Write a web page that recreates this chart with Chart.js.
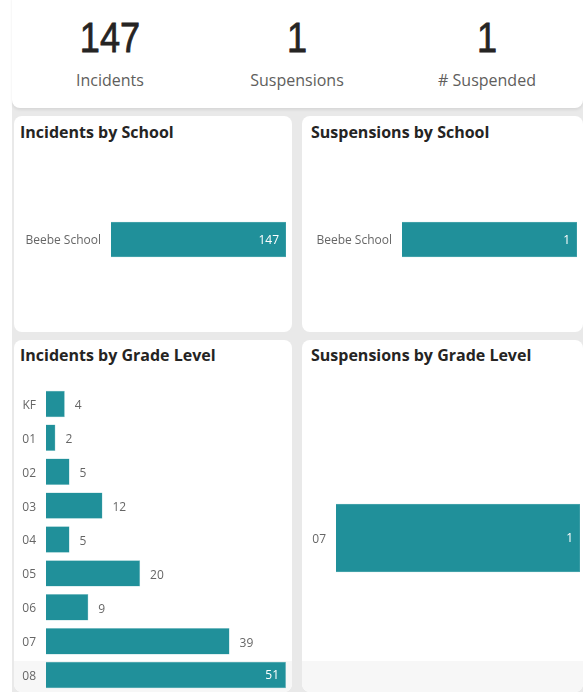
<!DOCTYPE html>
<html>
<head>
<meta charset="utf-8">
<script src="https://cdn.jsdelivr.net/npm/chart.js@4.4.1/dist/chart.umd.min.js"></script>
<style>
    html, body { margin: 0; padding: 0; background: #fff; }
    body { width: 583px; height: 692px; position: relative; overflow: hidden; font-family: 'Segoe UI', 'Open Sans', sans-serif; }
    .back { position: absolute; left: 12px; top: 100px; width: 571px; height: 592px; background: #e9e9e9; }
    .kpi-card { position: absolute; left: 12px; top: -10px; width: 571px; height: 118px; background: #fff; border-radius: 8px; box-shadow: 0 2px 3px rgba(0,0,0,0.08); }
    .kpi { position: absolute; top: 0; width: 190px; text-align: center; }
    .kpi .num { position: absolute; left: 0; right: 0; top: 25px; font-family: 'Liberation Sans', Arial, sans-serif; font-size: 42px; line-height: 46px; color: #252423; transform: scaleX(0.86); -webkit-text-stroke: 0.8px #252423; }
    .kpi .lbl { position: absolute; left: 0; right: 0; top: 79px; font-size: 16px; line-height: 22px; color: #605e5c; }
    .card { position: absolute; background: #fff; border-radius: 8px; overflow: hidden; }
    .card h2 { position: absolute; left: 6px; margin: 0; font-size: 16px; line-height: 20px; font-weight: 700; color: #252423; white-space: nowrap; }
    .band { position: absolute; left: 0; right: 0; bottom: 0; height: 31px; background: #f7f7f7; }
    canvas { position: absolute; }
</style>
</head>
<body>
<div class="back"></div>
<div class="kpi-card">
    <div class="kpi" style="left: 3px;"><div class="num" id="kpi0"></div><div class="lbl" id="kpil0"></div></div>
    <div class="kpi" style="left: 190px;"><div class="num" id="kpi1"></div><div class="lbl" id="kpil1"></div></div>
    <div class="kpi" style="left: 380px;"><div class="num" id="kpi2"></div><div class="lbl" id="kpil2"></div></div>
</div>

<div class="card" style="left: 14px; top: 116px; width: 278px; height: 216px;">
    <h2 style="top: 6px;">Incidents by School</h2>
</div>
<div class="card" style="left: 302px; top: 116px; width: 281px; height: 216px;">
    <h2 style="top: 6px; left: 9px;">Suspensions by School</h2>
</div>
<div class="card" style="left: 14px; top: 340px; width: 278px; height: 352px;">
    <h2 style="top: 5px;">Incidents by Grade Level</h2>
    <div class="band"></div>
</div>
<div class="card" style="left: 302px; top: 340px; width: 281px; height: 352px;">
    <h2 style="top: 5px; left: 9px;">Suspensions by Grade Level</h2>
    <div class="band"></div>
</div>

<canvas id="incSchool" width="280" height="179" style="left: 12px; top: 150px;"></canvas>
<canvas id="susSchool" width="281" height="179" style="left: 302px; top: 150px;"></canvas>
<canvas id="incGrade" width="280" height="305" style="left: 12px; top: 387px;"></canvas>
<canvas id="susGrade" width="281" height="306" style="left: 302px; top: 385px;"></canvas>

<script>
    // KPI cards
    const kpiValues = [147, 1, 1];
    const kpiLabels = ['Incidents', 'Suspensions', '# Suspended'];

    // bar charts
    const schools = ['Beebe School'];
    const incidentsBySchool = [147];
    const suspensionsBySchool = [1];
    const grades = ['KF', '01', '02', '03', '04', '05', '06', '07', '08'];
    const incidentsByGrade = [4, 2, 5, 12, 5, 20, 9, 39, 51];
    const suspensionGrades = ['07'];
    const suspensionsByGrade = [1];

    const BAR = '#20909a';
    const FONT = "'Segoe UI', 'Open Sans', sans-serif";

    kpiValues.forEach(function (v, i) {
        document.getElementById('kpi' + i).textContent = v;
        document.getElementById('kpil' + i).textContent = kpiLabels[i];
    });

    // value labels: outside the bar end, or inside (white) when there is no room
    const valueLabels = {
        id: 'valueLabels',
        afterDatasetsDraw(chart) {
            const ctx = chart.ctx;
            const area = chart.chartArea;
            const meta = chart.getDatasetMeta(0);
            const data = chart.data.datasets[0].data;
            ctx.save();
            ctx.font = '12px ' + FONT;
            ctx.textBaseline = 'middle';
            meta.data.forEach(function (bar, i) {
                const txt = String(data[i]);
                const w = ctx.measureText(txt).width;
                if (bar.x + 10 + w > area.right) {
                    ctx.fillStyle = '#ffffff';
                    ctx.textAlign = 'right';
                    ctx.fillText(txt, bar.x - 7, bar.y + 1);
                } else {
                    ctx.fillStyle = '#666666';
                    ctx.textAlign = 'left';
                    ctx.fillText(txt, bar.x + 10, bar.y + 2);
                }
            });
            ctx.restore();
        }
    };

    function hbar(id, labels, values, o) {
        const el = document.getElementById(id);
        return new Chart(el.getContext('2d'), {
            type: 'bar',
            data: {
                labels: labels,
                datasets: [{
                    data: values,
                    backgroundColor: BAR,
                    borderColor: 'rgba(120, 190, 195, 0.9)',
                    borderWidth: 0.5,
                    barThickness: o.thickness,
                    barPercentage: o.barPct || 0.9,
                    categoryPercentage: 1
                }]
            },
            options: {
                responsive: false,
                animation: false,
                indexAxis: 'y',
                layout: { padding: { left: 0, right: o.right, top: 0, bottom: 0 } },
                plugins: { legend: { display: false }, tooltip: { enabled: false } },
                scales: {
                    x: { display: false, min: 0, max: Math.max.apply(null, values) },
                    y: {
                        grid: { display: false, drawTicks: false },
                        border: { display: false },
                        ticks: { color: '#666666', font: { size: 12, family: FONT }, padding: 10, labelOffset: 1.5 },
                        afterFit: function (scale) {
                            scale.width = o.axisWidth;
                            scale.paddingTop = 0;
                            scale.paddingBottom = 0;
                        }
                    }
                }
            },
            plugins: [valueLabels]
        });
    }

    hbar('incSchool', schools, incidentsBySchool, { right: 6, axisWidth: 99, thickness: 35 });
    hbar('susSchool', schools, suspensionsBySchool, { right: 6, axisWidth: 100, thickness: 35 });
    hbar('incGrade', grades, incidentsByGrade, { right: 6, axisWidth: 34, barPct: 0.78 });
    hbar('susGrade', suspensionGrades, suspensionsByGrade, { right: 3, axisWidth: 34, thickness: 68 });
</script>
</body>
</html>
